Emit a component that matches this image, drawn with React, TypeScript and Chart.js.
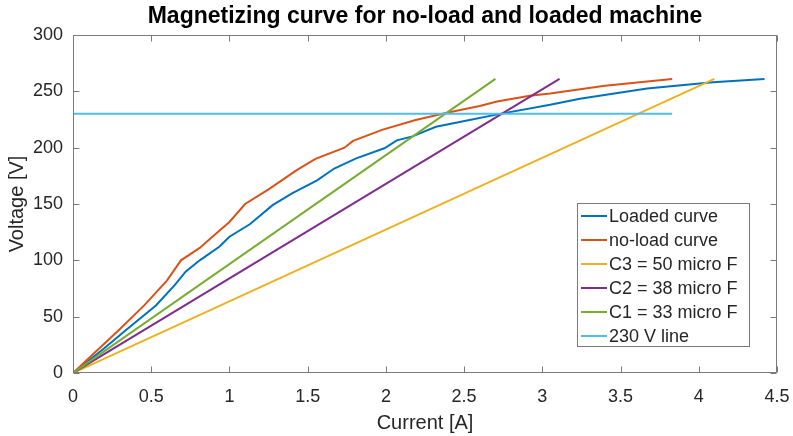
import React, { useEffect, useRef } from "react";
import { Chart, registerables } from "chart.js";

Chart.register(...registerables);

// ---- data ----
const loadedCurrent = [0, 0.2, 0.337, 0.53, 0.65, 0.72, 0.81, 0.935, 1.0, 1.13, 1.276, 1.4, 1.56, 1.67, 1.81, 1.99, 2.07, 2.17, 2.32, 2.535, 2.73, 3.05, 3.24, 3.67, 4.09, 4.42];
const loadedVoltage = [0, 22, 38, 60, 78, 90, 100, 112, 121, 132, 149, 159.5, 171, 181.5, 190.5, 199.5, 206.5, 210, 218.5, 224.5, 230, 238, 243.5, 252.5, 258, 261];

const noLoadCurrent = [0, 0.1, 0.2, 0.3, 0.455, 0.6, 0.69, 0.81, 0.9, 1.0, 1.1, 1.25, 1.43, 1.55, 1.735, 1.79, 1.98, 2.19, 2.39, 2.6, 2.71, 2.92, 3.05, 3.4, 3.83];
const noLoadVoltage = [0, 13, 26, 39, 60, 82, 100, 111, 122, 134, 150, 163, 180, 190, 200, 206, 216, 224.5, 231, 237, 241, 246, 248, 255, 261];

const c3Current = [0, 4.1];
const c3Voltage = [0, 261];
const c2Current = [0, 3.11];
const c2Voltage = [0, 261];
const c1Current = [0, 2.7];
const c1Voltage = [0, 261];
const line230Current = [0, 3.83];
const line230Voltage = [230, 230];

const seriesLabels = ["Loaded curve", "no-load curve", "C3 = 50 micro F", "C2 = 38 micro F", "C1 = 33 micro F", "230 V line"];
const seriesColors = ["#0072BD", "#D95319", "#EDB120", "#7E2F8E", "#77AC30", "#4DBEEE"];

const xTicks = [0, 0.5, 1, 1.5, 2, 2.5, 3, 3.5, 4, 4.5];
const yTicks = [0, 50, 100, 150, 200, 250, 300];

const FONT = "'Liberation Sans', Arial, Helvetica, sans-serif";
const TEXT = "#262626";
const AXIS = "#7a7a7a";

const pts = (xs: number[], ys: number[]) => xs.map((x, i) => ({ x, y: ys[i] }));

const framePlugin = {
  id: "frame",
  afterDatasetsDraw(chart: any) {
    const { ctx, chartArea: a, scales } = chart;
    const xs = scales.x, ys = scales.y;
    const L = Math.round(a.left) + 0.5, R = Math.round(a.right) - 0.5;
    const T = Math.round(a.top) + 0.5, B = Math.round(a.bottom) - 0.5;
    ctx.save();
    ctx.strokeStyle = AXIS;
    ctx.lineWidth = 1;
    ctx.beginPath();
    ctx.rect(L, T, R - L, B - T);
    const tl = 6;
    for (const v of xTicks) {
      const px = Math.round(xs.getPixelForValue(v)) + 0.5;
      ctx.moveTo(px, B); ctx.lineTo(px, B - tl);
      ctx.moveTo(px, T); ctx.lineTo(px, T + tl);
    }
    for (const v of yTicks) {
      const py = Math.round(ys.getPixelForValue(v)) + 0.5;
      ctx.moveTo(L, py); ctx.lineTo(L + tl, py);
      ctx.moveTo(R, py); ctx.lineTo(R - tl, py);
    }
    ctx.stroke();
    ctx.restore();
  },
};

const legendPlugin = {
  id: "boxLegend",
  afterDraw(chart: any) {
    const { ctx, chartArea: a } = chart;
    const ds = chart.data.datasets;
    ctx.save();
    ctx.font = `18px ${FONT}`;
    let maxW = 0;
    for (const d of ds) maxW = Math.max(maxW, ctx.measureText(d.label).width);
    const rowH = 24;
    const w = Math.round(36 + maxW + 8);
    const h = rowH * ds.length;
    const right = Math.round(a.right) - 27;
    const bottom = Math.round(a.bottom) - 26;
    const left = right - w, top = bottom - h;
    ctx.fillStyle = "#ffffff";
    ctx.fillRect(left, top, w, h);
    ctx.strokeStyle = AXIS;
    ctx.lineWidth = 1;
    ctx.strokeRect(left + 0.5, top + 0.5, w - 1, h - 1);
    ds.forEach((d: any, i: number) => {
      const cy = top + 13 + i * rowH;
      ctx.strokeStyle = d.borderColor;
      ctx.lineWidth = 2;
      ctx.beginPath();
      ctx.moveTo(left + 4, cy);
      ctx.lineTo(left + 30, cy);
      ctx.stroke();
      ctx.fillStyle = TEXT;
      ctx.textBaseline = "middle";
      ctx.textAlign = "left";
      ctx.fillText(d.label, left + 32, cy + 1);
    });
    ctx.restore();
  },
};

export default function App() {
  const ref = useRef<HTMLCanvasElement | null>(null);
  useEffect(() => {
    if (!ref.current) return;
    const data = [
      pts(loadedCurrent, loadedVoltage),
      pts(noLoadCurrent, noLoadVoltage),
      pts(c3Current, c3Voltage),
      pts(c2Current, c2Voltage),
      pts(c1Current, c1Voltage),
      pts(line230Current, line230Voltage),
    ];
    const chart = new Chart(ref.current, {
      type: "line",
      data: {
        datasets: data.map((d, i) => ({
          label: seriesLabels[i],
          data: d,
          borderColor: seriesColors[i],
          backgroundColor: seriesColors[i],
          borderWidth: 2,
          pointRadius: 0,
          tension: 0,
          fill: false,
          order: 6 - i,
        })),
      },
      options: {
        animation: false,
        responsive: false,
        devicePixelRatio: 1,
        layout: { padding: { top: 0, right: 16, bottom: 0, left: 0 } },
        plugins: {
          legend: { display: false },
          tooltip: { enabled: false },
          title: {
            display: true,
            fullSize: false,
            text: "Magnetizing curve for no-load and loaded machine",
            color: "#000000",
            font: { family: FONT, size: 23, weight: "bold" },
            padding: { top: 3, bottom: 4.4 },
          },
        },
        scales: {
          x: {
            type: "linear",
            min: 0,
            max: 4.5,
            afterFit: (s: any) => { s.height = 63; s.paddingLeft = 0; s.paddingRight = 0; },
            afterBuildTicks: (s: any) => { s.ticks = xTicks.map((v) => ({ value: v })); },
            grid: { display: false, drawTicks: false },
            border: { display: false },
            ticks: {
              color: TEXT,
              font: { family: FONT, size: 18 },
              padding: 13,
              maxRotation: 0,
              autoSkip: false,
              callback: (v: any) => String(v),
            },
            title: {
              display: true,
              text: "Current [A]",
              color: TEXT,
              font: { family: FONT, size: 20 },
              padding: { top: 0, bottom: 1 },
            },
          },
          y: {
            type: "linear",
            min: 0,
            max: 300,
            afterFit: (s: any) => { s.width = 73; s.paddingTop = 0; s.paddingBottom = 0; },
            afterBuildTicks: (s: any) => { s.ticks = yTicks.map((v) => ({ value: v })); },
            grid: { display: false, drawTicks: false },
            border: { display: false },
            ticks: {
              color: TEXT,
              font: { family: FONT, size: 18 },
              padding: 10,
              autoSkip: false,
              callback: (v: any) => String(v),
            },
            title: {
              display: true,
              text: "Voltage [V]",
              color: TEXT,
              font: { family: FONT, size: 20 },
              padding: { top: 5, bottom: 0 },
            },
          },
        },
      },
      plugins: [framePlugin, legendPlugin],
    } as any);
    return () => chart.destroy();
  }, []);
  return (
    <div style={{ position: "fixed", left: 0, top: 0, width: 793, height: 436, background: "#fff" }}>
      <canvas ref={ref} width={793} height={436} style={{ width: 793, height: 436, display: "block" }} />
    </div>
  );
}
